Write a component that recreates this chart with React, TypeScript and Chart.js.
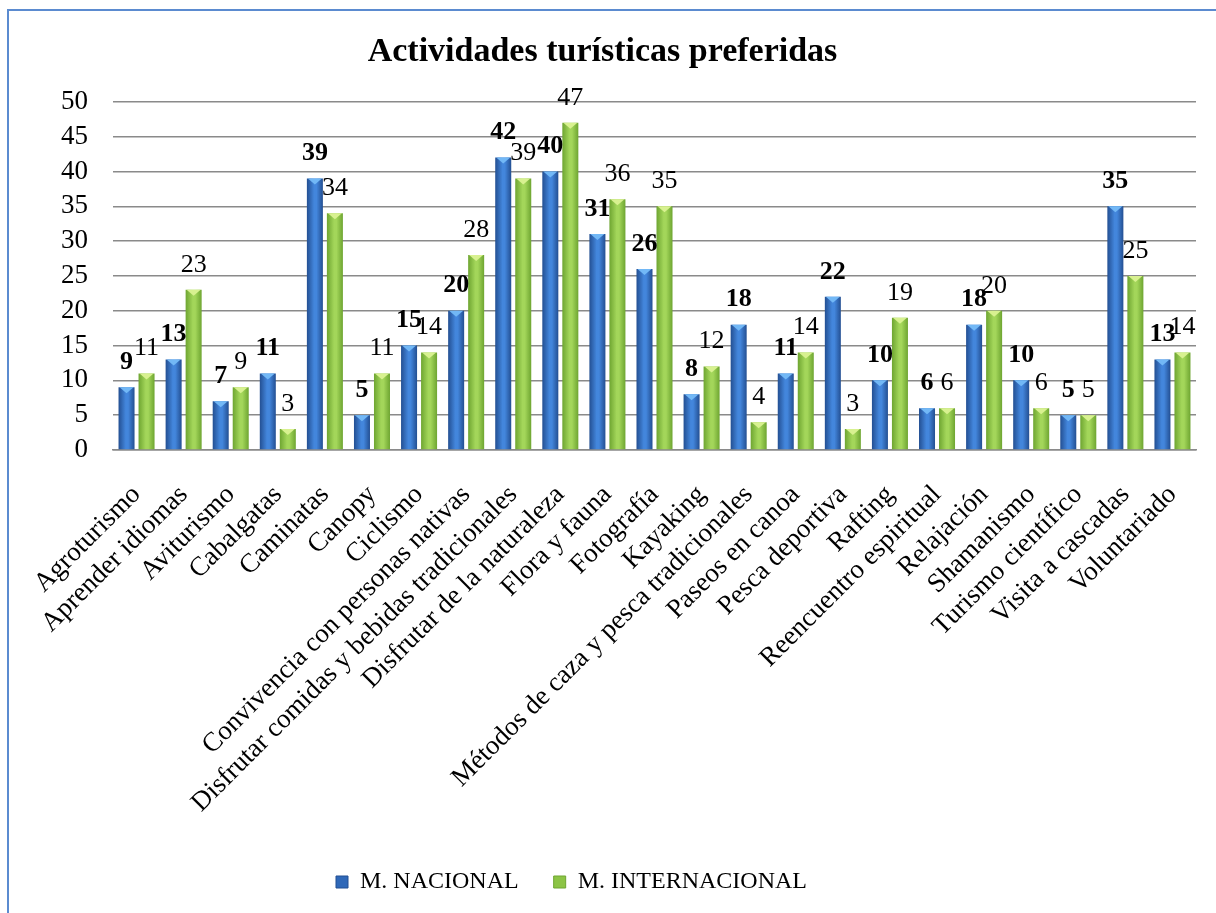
import React, { useEffect, useRef } from "react";
import { Chart, registerables } from "chart.js";

Chart.register(...registerables);

const categories = [
  "Agroturismo",
  "Aprender idiomas",
  "Aviturismo",
  "Cabalgatas",
  "Caminatas",
  "Canopy",
  "Ciclismo",
  "Convivencia con personas nativas",
  "Disfrutar comidas y bebidas tradicionales",
  "Disfrutar de la naturaleza",
  "Flora y fauna",
  "Fotografía",
  "Kayaking",
  "Métodos de caza y pesca tradicionales",
  "Paseos en canoa",
  "Pesca deportiva",
  "Rafting",
  "Reencuentro espiritual",
  "Relajación",
  "Shamanismo",
  "Turismo científico",
  "Visita a cascadas",
  "Voluntariado",
];

const nacional = [9, 13, 7, 11, 39, 5, 15, 20, 42, 40, 31, 26, 8, 18, 11, 22, 10, 6, 18, 10, 5, 35, 13];
const internacional = [11, 23, 9, 3, 34, 11, 14, 28, 39, 47, 36, 35, 12, 4, 14, 3, 19, 6, 20, 6, 5, 25, 14];

const seriesNames = ["M. NACIONAL", "M. INTERNACIONAL"];
const yTicks = { min: 0, max: 50, step: 5 };

const FONT = "'Liberation Serif', 'Times New Roman', serif";

const palettes = [
  { edge: "#234f92", mid: "#4386dc", cap: "#72b8f6", solid: "#2f68b8" },
  { edge: "#6ea531", mid: "#a3d65a", cap: "#d8f190", solid: "#8cc445" },
];

const barStylePlugin = {
  id: "barStyle",
  beforeDatasetsDraw(chart: any) {
    const ctx = chart.ctx;
    chart.data.datasets.forEach((_ds: any, di: number) => {
      const meta = chart.getDatasetMeta(di);
      const p = palettes[di];
      meta.data.forEach((bar: any) => {
        const l = bar.x - bar.width / 2;
        const r = bar.x + bar.width / 2;
        const g = ctx.createLinearGradient(l, 0, r, 0);
        g.addColorStop(0, p.edge);
        g.addColorStop(0.45, p.mid);
        g.addColorStop(0.6, p.mid);
        g.addColorStop(1, p.edge);
        bar.options = Object.assign({}, bar.options, { backgroundColor: g });
      });
    });
  },
  afterDatasetsDraw(chart: any) {
    const ctx = chart.ctx;
    ctx.save();
    chart.data.datasets.forEach((ds: any, di: number) => {
      const meta = chart.getDatasetMeta(di);
      const p = palettes[di];
      meta.data.forEach((bar: any, i: number) => {
        const l = bar.x - bar.width / 2;
        const r = bar.x + bar.width / 2;
        const top = bar.y;
        ctx.fillStyle = p.cap;
        ctx.beginPath();
        ctx.moveTo(l + 1, top);
        ctx.lineTo(r - 1, top);
        ctx.lineTo(bar.x, top + 6);
        ctx.closePath();
        ctx.fill();
        ctx.fillStyle = "#000";
        ctx.font = (di === 0 ? "bold " : "") + "26px " + FONT;
        ctx.textAlign = "center";
        ctx.textBaseline = "middle";
        ctx.fillText(String(ds.data[i]), bar.x, top - 25);
      });
    });
    ctx.restore();
  },
};

const legendShiftPlugin = {
  id: "legendShift",
  afterLayout(chart: any) {
    const lg = chart.legend;
    if (lg) {
      lg.left -= 62;
    }
  },
};

export default function App() {
  const ref = useRef<HTMLCanvasElement | null>(null);

  useEffect(() => {
    if (!ref.current) return;
    const chart = new Chart(ref.current, {
      type: "bar",
      data: {
        labels: categories,
        datasets: [
          {
            label: seriesNames[0],
            data: nacional,
            backgroundColor: palettes[0].solid,
            categoryPercentage: 0.85,
            barPercentage: 0.8,
          },
          {
            label: seriesNames[1],
            data: internacional,
            backgroundColor: palettes[1].solid,
            categoryPercentage: 0.85,
            barPercentage: 0.8,
          },
        ],
      },
      options: {
        responsive: false,
        animation: false,
        devicePixelRatio: 1,
        layout: { padding: { left: 0, right: 20, top: 0, bottom: 9 } },
        plugins: {
          title: {
            display: true,
            text: "Actividades turísticas preferidas",
            color: "#000",
            font: { family: FONT, size: 34, weight: "bold", lineHeight: 1.2 },
            padding: { top: 21, bottom: 29 },
          },
          legend: {
            position: "bottom",
            labels: {
              color: "#000",
              boxWidth: 12,
              boxHeight: 12,
              padding: 35,
              font: { family: FONT, size: 24 },
              generateLabels: (c: any) =>
                c.data.datasets.map((ds: any, i: number) => ({
                  text: ds.label,
                  fillStyle: palettes[i].solid,
                  strokeStyle: palettes[i].edge,
                  lineWidth: 1,
                  datasetIndex: i,
                  hidden: false,
                })),
            },
          },
          tooltip: { enabled: false },
        },
        scales: {
          x: {
            grid: { display: false, drawTicks: false },
            border: { display: true, color: "#8a8a8a", width: 1.5 },
            ticks: {
              color: "#000",
              font: { family: FONT, size: 27 },
              minRotation: 45,
              maxRotation: 45,
              autoSkip: false,
              padding: 29,
            },
            afterFit: (s: any) => {
              s.height = 385;
              s.paddingLeft = 0;
              s.paddingRight = 0;
            },
          },
          y: {
            min: yTicks.min,
            max: yTicks.max,
            grid: { color: "#8a8a8a", lineWidth: 1.5, drawTicks: false },
            border: { display: false },
            ticks: {
              stepSize: yTicks.step,
              autoSkip: false,
              color: "#000",
              font: { family: FONT, size: 27 },
              padding: 25,
            },
            afterFit: (s: any) => {
              s.width = 104;
            },
          },
        },
      },
      plugins: [barStylePlugin, legendShiftPlugin],
    });
    return () => chart.destroy();
  }, []);

  return (
    <div
      style={{
        position: "absolute",
        left: 7,
        top: 9,
        width: 1209,
        height: 904,
        borderLeft: "2px solid #5b8bd0",
        borderTop: "2px solid #5b8bd0",
        background: "#fff",
        overflow: "hidden",
      }}
    >
      <canvas ref={ref} width={1207} height={902} style={{ display: "block" }} />
    </div>
  );
}
